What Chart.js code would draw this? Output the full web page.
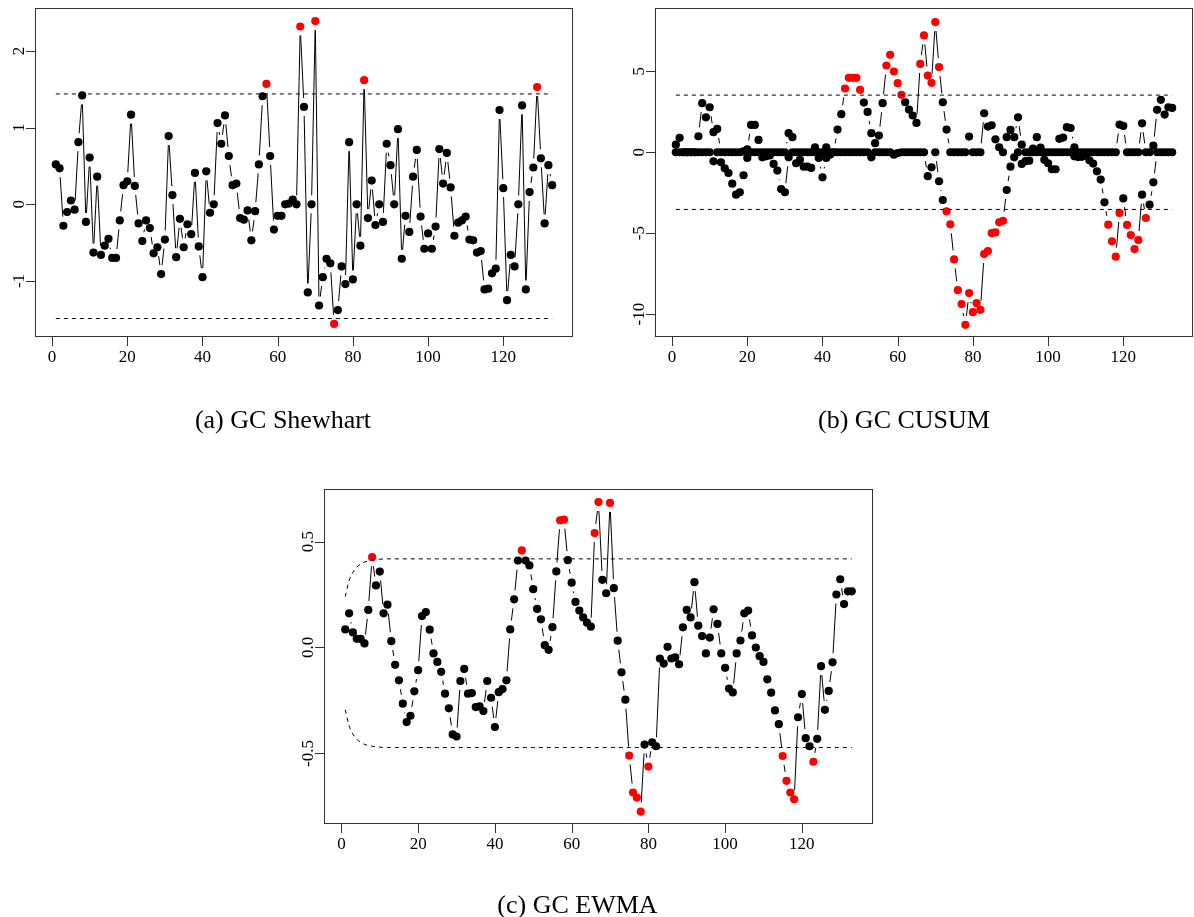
<!DOCTYPE html>
<html>
<head>
<meta charset="utf-8">
<script src="https://cdn.jsdelivr.net/npm/chart.js@4.4.1/dist/chart.umd.min.js"></script>
<style>
  html, body { margin: 0; padding: 0; background: #fff; }
  body { width: 1194px; height: 917px; position: relative; overflow: hidden; }
  canvas { position: absolute; }
</style>
</head>
<body>
<canvas id="shewhart" width="600" height="440" style="left:0;top:0"></canvas>
<canvas id="cusum" width="594" height="440" style="left:600px;top:0"></canvas>
<canvas id="ewma" width="640" height="447" style="left:280px;top:470px"></canvas>
<script>
const nObs = 133;
const obsIndex = Array.from({ length: nObs }, (_, i) => i + 1);
const xTicks = [0, 20, 40, 60, 80, 100, 120];

// (a) Shewhart
const shewhartValues = [
  0.52, 0.47, -0.28, -0.10, 0.05, -0.07, 0.81, 1.42, -0.23, 0.61,
  -0.63, 0.36, -0.66, -0.54, -0.45, -0.70, -0.70, -0.21, 0.25, 0.30,
  1.17, 0.24, -0.25, -0.48, -0.21, -0.31, -0.64, -0.56, -0.91, -0.46,
  0.89, 0.12, -0.69, -0.19, -0.56, -0.26, -0.39, 0.41, -0.55, -0.95,
  0.43, -0.11, 0.00, 1.06, 0.79, 1.16, 0.63, 0.25, 0.27, -0.18,
  -0.20, -0.08, -0.47, -0.09, 0.52, 1.41, 1.57, 0.63, -0.33, -0.15,
  -0.15, 0.00, 0.01, 0.06, 0.00, 2.32, 1.27, -1.15, 0.00, 2.39,
  -1.32, -0.95, -0.71, -0.77, -1.56, -1.38, -0.81, -1.04, 0.81, -0.98,
  0.00, -0.54, 1.62, -0.18, 0.31, -0.27, 0.00, -0.23, 0.79, 0.51,
  0.00, 0.98, -0.71, -0.15, -0.36, 0.36, 0.71, -0.16, -0.58, -0.38,
  -0.58, -0.29, 0.72, 0.27, 0.67, 0.22, -0.41, -0.24, -0.21, -0.16,
  -0.46, -0.47, -0.63, -0.61, -1.11, -1.10, -0.90, -0.84, 1.23, 0.21,
  -1.25, -0.66, -0.81, 0.00, 1.29, -1.11, 0.16, 0.48, 1.53, 0.60,
  -0.25, 0.51, 0.25
];
const shewhartLimits = [-1.49, 1.44];
const shewhartYTicks = [-1, 0, 1, 2];

// (b) CUSUM, upper and lower sums
const cusumUpper = [
  0.47, 0.89, 0, 0, 0, 0, 0.99, 3.03, 2.16, 2.78,
  1.24, 1.44, 0, 0, 0, 0, 0, 0, 0.05, 0.18,
  1.69, 1.69, 0.76, 0, 0, 0, 0, 0, 0, 0,
  1.18, 0.93, 0, 0, 0, 0, 0, 0.31, 0, 0,
  0.31, 0, 0, 1.40, 2.35, 3.94, 4.60, 4.60, 4.60, 3.86,
  3.07, 2.49, 1.18, 0.56, 1.03, 3.03, 5.36, 6.02, 4.99, 4.27,
  3.55, 3.09, 2.64, 2.27, 1.81, 5.46, 7.22, 4.74, 4.29, 8.04,
  5.26, 3.09, 1.40, 0, 0, 0, 0, 0, 0.97, 0,
  0, 0, 2.41, 1.59, 1.67, 0.80, 0.31, 0, 0.93, 1.38,
  0.93, 2.16, 0.47, 0, 0, 0.23, 0.93, 0.29, 0, 0,
  0, 0, 0.83, 0.91, 1.55, 1.50, 0.31, 0, 0, 0,
  0, 0, 0, 0, 0, 0, 0, 0, 1.71, 1.63,
  0, 0, 0, 0, 1.79, 0, 0, 0.41, 2.62, 3.24,
  2.33, 2.78, 2.74
];
const cusumLower = [
  0, 0, 0, 0, 0, 0, 0, 0, 0, 0,
  -0.56, 0, -0.62, -0.99, -1.28, -1.94, -2.62, -2.47, -1.42, -0.35,
  0, 0, 0, -0.31, -0.25, -0.20, -0.72, -1.13, -2.27, -2.47,
  -0.31, 0, -0.68, -0.47, -0.89, -0.89, -0.97, 0, -0.35, -1.55,
  -0.35, -0.15, 0, 0, 0, 0, 0, 0, 0, 0,
  0, 0, -0.31, 0, 0, 0, 0, 0, -0.15, -0.05,
  0, 0, 0, 0, 0, 0, 0, -1.48, -0.93, 0,
  -1.79, -2.95, -3.65, -4.45, -6.62, -8.52, -9.38, -10.66, -8.70, -9.88,
  -9.32, -9.73, -6.29, -6.10, -4.99, -4.95, -4.33, -4.23, -2.33, -0.89,
  -0.31, 0, -0.72, -0.55, -0.52, 0, 0, 0, -0.47, -0.68,
  -1.05, -1.05, 0, 0, 0, 0, -0.25, -0.30, -0.28, -0.20,
  -0.50, -0.70, -1.18, -1.69, -3.09, -4.47, -5.50, -6.45, -3.75, -2.85,
  -4.49, -5.11, -5.98, -5.42, -2.62, -4.06, -3.24, -1.86, 0, 0,
  0, 0, 0
];
const cusumLimits = [-3.53, 3.53];
const cusumYTicks = [-10, -5, 0, 5];

// (c) EWMA
const ewmaValues = [
  0.085, 0.161, 0.071, 0.041, 0.041, 0.019, 0.177, 0.426, 0.293, 0.358,
  0.161, 0.202, 0.030, -0.082, -0.155, -0.265, -0.352, -0.322, -0.207, -0.107,
  0.148, 0.167, 0.084, -0.028, -0.068, -0.115, -0.218, -0.287, -0.410, -0.420,
  -0.158, -0.101, -0.218, -0.215, -0.281, -0.278, -0.300, -0.158, -0.237, -0.375,
  -0.211, -0.196, -0.155, 0.085, 0.227, 0.410, 0.458, 0.410, 0.387, 0.275,
  0.182, 0.133, 0.011, -0.011, 0.096, 0.359, 0.600, 0.603, 0.412, 0.306,
  0.215, 0.174, 0.142, 0.117, 0.098, 0.540, 0.686, 0.319, 0.256, 0.682,
  0.280, 0.032, -0.117, -0.246, -0.510, -0.684, -0.708, -0.774, -0.458, -0.562,
  -0.447, -0.466, -0.052, -0.076, 0.003, -0.052, -0.047, -0.079, 0.095, 0.177,
  0.142, 0.308, 0.103, 0.054, -0.028, 0.047, 0.180, 0.111, -0.028, -0.096,
  -0.194, -0.212, -0.028, 0.033, 0.161, 0.174, 0.057, 0.000, -0.041, -0.068,
  -0.150, -0.213, -0.297, -0.362, -0.512, -0.629, -0.684, -0.716, -0.329, -0.220,
  -0.428, -0.466, -0.539, -0.431, -0.088, -0.294, -0.205, -0.070, 0.250, 0.322,
  0.205, 0.265, 0.265
];
// limits widen over the first points, then stay flat
const ewmaUpperStart = [0.240, 0.315, 0.355, 0.379, 0.393, 0.403, 0.408, 0.412, 0.414, 0.416];
const ewmaLowerStart = [-0.294, -0.369, -0.409, -0.433, -0.447, -0.457, -0.462, -0.466, -0.468, -0.470];
const ewmaLimits = [-0.472, 0.418];
const ewmaYTicks = [-0.5, 0, 0.5];
const ewmaYTickLabels = ['-0.5', '0.0', '0.5'];

const ewmaUcl = obsIndex.map((_, i) => (i < ewmaUpperStart.length ? ewmaUpperStart[i] : ewmaLimits[1]));
const ewmaLcl = obsIndex.map((_, i) => (i < ewmaLowerStart.length ? ewmaLowerStart[i] : ewmaLimits[0]));

const RED = '#ff0000';
const SERIF = '"Liberation Serif", "DejaVu Serif", serif';
const GAP = 9; // R type="b": lines stop short of the points

// lines between points with a gap at each end, like R's type="b"
const gappedLines = {
  id: 'gappedLines',
  beforeDatasetsDraw(chart) {
    const { ctx, chartArea } = chart;
    ctx.save();
    ctx.beginPath();
    ctx.rect(chartArea.left, chartArea.top, chartArea.width, chartArea.height);
    ctx.clip();
    ctx.strokeStyle = '#000';
    ctx.lineWidth = 1;
    chart.data.datasets.forEach((ds, di) => {
      if (!ds.gapLine) return;
      const pts = chart.getDatasetMeta(di).data;
      ctx.beginPath();
      for (let i = 1; i < pts.length; i++) {
        const a = pts[i - 1], b = pts[i];
        const dx = b.x - a.x, dy = b.y - a.y;
        const len = Math.hypot(dx, dy);
        if (len <= 2 * GAP) continue;
        const ux = dx / len, uy = dy / len;
        ctx.moveTo(a.x + ux * GAP, a.y + uy * GAP);
        ctx.lineTo(b.x - ux * GAP, b.y - uy * GAP);
      }
      ctx.stroke();
    });
    ctx.restore();
  },
};

// box, outward ticks, rotated y labels and the caption
const rFrame = {
  id: 'rFrame',
  afterDraw(chart) {
    const o = chart.options.plugins.rFrame;
    const { ctx, chartArea: a, scales } = chart;
    ctx.save();
    ctx.strokeStyle = '#333';
    ctx.lineWidth = 1;
    ctx.strokeRect(Math.round(a.left) - 0.5, Math.round(a.top) - 0.5,
      Math.round(a.right - a.left) + 1, Math.round(a.bottom - a.top) + 1);

    ctx.fillStyle = '#000';
    ctx.font = '17px ' + SERIF;
    ctx.beginPath();
    xTicks.forEach((t) => {
      const px = Math.round(scales.x.getPixelForValue(t)) + 0.5;
      ctx.moveTo(px, a.bottom);
      ctx.lineTo(px, a.bottom + 10);
    });
    o.yTicks.forEach((t) => {
      const py = Math.round(scales.y.getPixelForValue(t)) + 0.5;
      ctx.moveTo(a.left, py);
      ctx.lineTo(a.left - 10, py);
    });
    ctx.stroke();

    ctx.textAlign = 'center';
    ctx.textBaseline = 'alphabetic';
    xTicks.forEach((t) => {
      ctx.fillText(String(t), scales.x.getPixelForValue(t), a.bottom + 26);
    });
    o.yTicks.forEach((t, i) => {
      ctx.save();
      ctx.translate(a.left - 12, scales.y.getPixelForValue(t));
      ctx.rotate(-Math.PI / 2);
      ctx.fillText(o.yLabels ? o.yLabels[i] : String(t), 0, 0);
      ctx.restore();
    });

    ctx.font = '26px ' + SERIF;
    ctx.fillText(o.caption, o.captionX, o.captionY);
    ctx.restore();
  },
};

function pointSet(values, isOut) {
  return {
    data: values,
    showLine: false,
    gapLine: true,
    pointRadius: 4.1,
    pointBorderWidth: 0,
    pointBackgroundColor: (c) => (isOut(c.raw, c.dataIndex) ? RED : '#000'),
  };
}

function flatLimit(y) {
  return {
    data: [{ x: 1, y }, { x: nObs, y }],
    borderColor: '#000',
    borderWidth: 1,
    borderDash: [4, 4],
    pointRadius: 0,
  };
}

function curveLimit(values) {
  return {
    data: values,
    borderColor: '#000',
    borderWidth: 1,
    borderDash: [4, 4],
    pointRadius: 0,
    cubicInterpolationMode: 'monotone',
  };
}

function makeChart(id, datasets, cfg) {
  return new Chart(document.getElementById(id), {
    type: 'line',
    data: { labels: obsIndex, datasets },
    options: {
      responsive: false,
      animation: false,
      devicePixelRatio: 1,
      events: [],
      layout: { autoPadding: false, padding: cfg.padding },
      scales: {
        x: { type: 'linear', display: false, min: -4.28, max: 138.28 },
        y: { type: 'linear', display: false, min: cfg.yMin, max: cfg.yMax },
      },
      plugins: {
        legend: { display: false },
        tooltip: { enabled: false },
        rFrame: cfg.frame,
      },
    },
    plugins: [gappedLines, rFrame],
  });
}

makeChart('shewhart', [
  flatLimit(shewhartLimits[1]),
  flatLimit(shewhartLimits[0]),
  pointSet(shewhartValues, (v) => v > shewhartLimits[1] || v < shewhartLimits[0]),
], {
  padding: { left: 36, top: 9, right: 28, bottom: 104 },
  yMin: -1.718, yMax: 2.548,
  frame: { yTicks: shewhartYTicks, caption: '(a) GC Shewhart', captionX: 283, captionY: 428 },
});

makeChart('cusum', [
  flatLimit(cusumLimits[1]),
  flatLimit(cusumLimits[0]),
  pointSet(cusumUpper, (v) => v > cusumLimits[1]),
  pointSet(cusumLower, (v) => v < cusumLimits[0]),
], {
  padding: { left: 56, top: 9, right: 2, bottom: 104 },
  yMin: -11.35, yMax: 8.85,
  frame: { yTicks: cusumYTicks, caption: '(b) GC CUSUM', captionX: 304, captionY: 428 },
});

makeChart('ewma', [
  curveLimit(ewmaUcl),
  curveLimit(ewmaLcl),
  pointSet(ewmaValues, (v, i) => v > ewmaUcl[i] || v < ewmaLcl[i]),
], {
  padding: { left: 45, top: 20, right: 48, bottom: 94 },
  yMin: -0.828, yMax: 0.743,
  frame: { yTicks: ewmaYTicks, yLabels: ewmaYTickLabels, caption: '(c) GC EWMA', captionX: 297.5, captionY: 443 },
});
</script>
</body>
</html>
